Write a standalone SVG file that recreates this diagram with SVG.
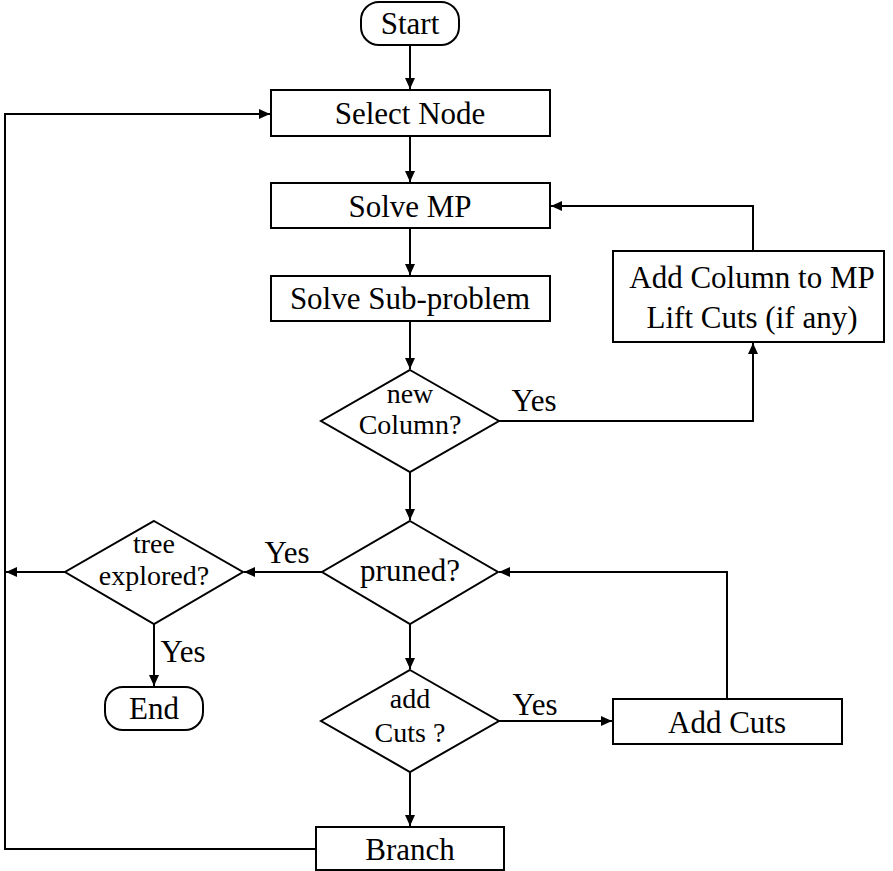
<svg xmlns="http://www.w3.org/2000/svg" width="893" height="871" viewBox="0 0 893 871">
<defs>
<marker id="arr" markerUnits="userSpaceOnUse" markerWidth="12" markerHeight="10" refX="11" refY="5" orient="auto">
<path d="M0,0 L11,5 L0,10 z" fill="#000"/>
</marker>
<style>
.n{fill:#fff;stroke:#000;stroke-width:2}
.c{fill:none;stroke:#000;stroke-width:2}
.a{marker-end:url(#arr)}
text{font-family:"Liberation Serif","DejaVu Serif",serif;font-size:31px;fill:#000;text-anchor:middle}
.d{font-size:28px}
</style>
</defs>
<rect width="893" height="871" fill="#fff"/>
<g id="connectors">
<path class="c a" d="M410,45 V89"/>
<path class="c a" d="M410,136 V182"/>
<path class="c a" d="M410,228 V275"/>
<path class="c a" d="M410,321 V369"/>
<path class="c a" d="M499,421 H753 V343"/>
<path class="c a" d="M753,251 V206 H551"/>
<path class="c a" d="M410,472 V520"/>
<path class="c a" d="M322,572 H244"/>
<path class="c a" d="M65,572 H6"/>
<path class="c a" d="M154,624 V686"/>
<path class="c a" d="M410,624 V669"/>
<path class="c a" d="M499,721 H612"/>
<path class="c a" d="M727,699 V572 H499"/>
<path class="c a" d="M410,772 V826"/>
<path class="c a" d="M316,849 H5 V114 H270"/>
<text x="534" y="411">Yes</text>
<text x="287" y="563">Yes</text>
<text x="183" y="662">Yes</text>
<text x="535" y="715">Yes</text>
</g>
<g id="start">
<rect class="n" x="361" y="2" width="98" height="43" rx="18"/>
<text x="410" y="34">Start</text>
</g>
<g id="select-node">
<rect class="n" x="271" y="90" width="279" height="46"/>
<text x="410" y="124">Select Node</text>
</g>
<g id="solve-mp">
<rect class="n" x="271" y="183" width="279" height="45"/>
<text x="410" y="217">Solve MP</text>
</g>
<g id="solve-sub">
<rect class="n" x="271" y="276" width="279" height="45"/>
<text x="410" y="309">Solve Sub-problem</text>
</g>
<g id="add-column">
<rect class="n" x="613" y="251" width="271" height="91"/>
<text x="752" y="288">Add Column to MP</text>
<text x="752" y="328">Lift Cuts (if any)</text>
</g>
<g id="new-column">
<polygon class="n" points="410,370 499,421 410,472 321,421"/>
<text class="d" x="410" y="403">new</text>
<text class="d" x="410" y="434">Column?</text>
</g>
<g id="pruned">
<polygon class="n" points="410,521 498,572 410,624 322,572"/>
<text x="410" y="581">pruned?</text>
</g>
<g id="tree-explored">
<polygon class="n" points="154,521 243,572 154,624 65,572"/>
<text class="d" x="154" y="553">tree</text>
<text class="d" x="154" y="585">explored?</text>
</g>
<g id="end">
<rect class="n" x="105" y="687" width="98" height="43" rx="18"/>
<text x="154" y="719">End</text>
</g>
<g id="add-cuts-q">
<polygon class="n" points="410,670 499,721 410,772 321,721"/>
<text class="d" x="410" y="708">add</text>
<text class="d" x="410" y="742">Cuts ?</text>
</g>
<g id="add-cuts">
<rect class="n" x="613" y="699" width="229" height="45"/>
<text x="727" y="733">Add Cuts</text>
</g>
<g id="branch">
<rect class="n" x="316" y="827" width="188" height="43"/>
<text x="410" y="860">Branch</text>
</g>
</svg>
